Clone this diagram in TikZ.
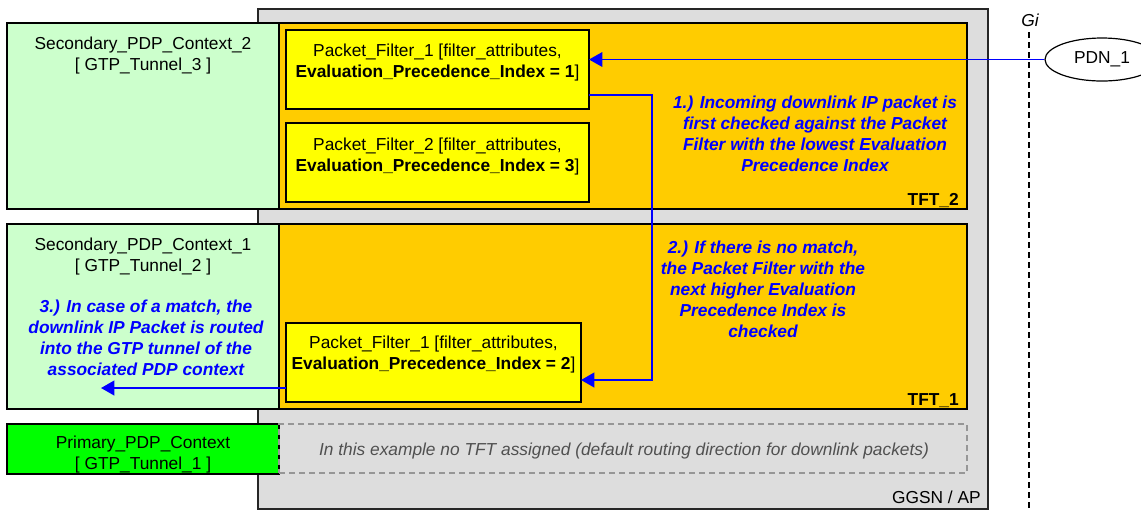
\documentclass[tikz,border=0pt]{standalone}
\usepackage{fontspec}
\setmainfont{Liberation Sans}
\usetikzlibrary{shapes.geometric,arrows.meta}
\definecolor{ggsngray}{RGB}{221,221,221}
\definecolor{lightgreen}{RGB}{204,255,204}
\definecolor{brightgreen}{RGB}{0,255,0}
\definecolor{tftorange}{RGB}{255,204,0}
\definecolor{pfyellow}{RGB}{255,255,0}
\definecolor{noteblue}{RGB}{0,0,255}
\definecolor{dashgray}{RGB}{150,150,150}
\definecolor{textgray}{RGB}{80,80,80}
\begin{document}
\begin{tikzpicture}[x=0.75pt,y=-0.75pt,
  box/.style={draw=black, line width=0.9pt, inner sep=0pt, outer sep=0pt},
  txt/.style={inner sep=0pt, font=\fontsize{13}{15.5}\selectfont, align=center},
  note/.style={inner sep=0pt, align=center, text=noteblue, font=\fontsize{13}{15.75}\selectfont\bfseries\itshape},
  flow/.style={draw=noteblue, line width=1.6pt, -{Triangle[length=10pt,width=11pt]}},
  thinflow/.style={draw=noteblue, line width=0.9pt, -{Triangle[length=10pt,width=11pt]}},
]
\clip (0,0) rectangle (1141,512);
% GGSN / AP container
\node[box, fill=ggsngray, draw=black!85, line width=1.2pt, minimum width=547.5pt, minimum height=375pt] (ggsn) at (623,259) {};
\node[txt, anchor=base east] (ggsnlbl) at (981,503) {GGSN / AP};
% Gi reference line
\coordinate (gitop) at (1029,32);
\coordinate (gibot) at (1029,512);
\draw[black, line width=0.9pt, dash pattern=on 4.5pt off 3pt] (gitop) -- (gibot);
\node[txt, font=\fontsize{13}{15.5}\selectfont\itshape, anchor=base] (gi) at (1030,26) {Gi};
% PDN
\node[draw=black, line width=0.9pt, fill=white, ellipse, minimum width=85.5pt, minimum height=32.25pt, inner sep=0pt, font=\fontsize{13}{15.5}\selectfont] (pdn) at (1102,59.5) {PDN\_1};
% TFT_2 row
\node[box, fill=tftorange, minimum width=516pt, minimum height=139.5pt] (tft2) at (623,116) {};
\node[box, fill=lightgreen, minimum width=204pt, minimum height=139.5pt] (sec2) at (143,116) {};
\node[txt, anchor=north] (sec2t) at (143,36.5) {Secondary\_PDP\_Context\_2\\{}[ GTP\_Tunnel\_3 ]};
\node[box, fill=pfyellow, minimum width=227.25pt, minimum height=59.25pt] (pf1) at (437.5,69.5) {};
\node[txt, anchor=north] (pf1t) at (437.5,43.5) {Packet\_Filter\_1 [filter\_attributes,\\\textbf{Evaluation\_Precedence\_Index = 1}]};
\node[box, fill=pfyellow, minimum width=227.25pt, minimum height=59.25pt] (pf2) at (437.5,162.5) {};
\node[txt, anchor=north] (pf2t) at (437.5,137.5) {Packet\_Filter\_2 [filter\_attributes,\\\textbf{Evaluation\_Precedence\_Index = 3}]};
\node[txt, font=\fontsize{13}{15.5}\selectfont\bfseries, anchor=base east] (tft2l) at (959,205) {TFT\_2};
\node[note, anchor=north] (note1) at (815,96) {1.) Incoming downlink IP packet is\\first checked against the Packet\\Filter with the lowest Evaluation\\Precedence Index};
% TFT_1 row
\node[box, fill=tftorange, minimum width=516pt, minimum height=138.75pt] (tft1) at (623,316.5) {};
\node[box, fill=lightgreen, minimum width=204pt, minimum height=138.75pt] (sec1) at (143,316.5) {};
\node[txt, anchor=north] (sec1t) at (143,237.5) {Secondary\_PDP\_Context\_1\\{}[ GTP\_Tunnel\_2 ]};
\node[note, anchor=north] (note3) at (146,300) {3.) In case of a match, the\\downlink IP Packet is routed\\into the GTP tunnel of the\\associated PDP context};
\node[box, fill=pfyellow, minimum width=221.25pt, minimum height=59.25pt] (pf3) at (433.5,362.5) {};
\node[txt, anchor=north] (pf3t) at (433.5,335.5) {Packet\_Filter\_1 [filter\_attributes,\\\textbf{Evaluation\_Precedence\_Index = 2}]};
\node[txt, font=\fontsize{13}{15.5}\selectfont\bfseries, anchor=base east] (tft1l) at (959,405) {TFT\_1};
\node[note, anchor=north] (note2) at (763,241) {2.) If there is no match,\\the Packet Filter with the\\next higher Evaluation\\Precedence Index is\\checked};
% Primary row
\node[box, fill=brightgreen, minimum width=204pt, minimum height=37.5pt] (prim) at (143,449) {};
\node[txt, anchor=north] (primt) at (143,435.5) {Primary\_PDP\_Context\\{}[ GTP\_Tunnel\_1 ]};
\node[draw=dashgray, line width=1.1pt, dash pattern=on 4.5pt off 3pt, inner sep=0pt, outer sep=0pt, minimum width=516pt, minimum height=36.75pt] (notft) at (623,448.5) {};
\node[txt, font=\fontsize{13}{15.5}\selectfont\itshape, text=textgray, anchor=base] (notftt) at (624,455) {In this example no TFT assigned (default routing direction for downlink packets)};
% connectors
\draw[thinflow] (pdn.west) -- (pdn.west -| pf1.east);
\coordinate (turn1) at (652,95);
\coordinate (turn2) at (652,380);
\draw[flow] (pf1.east |- turn1) -- (turn1) -- (turn2) -- (turn2 -| pf3.east);
\coordinate (outend) at (101,388);
\draw[flow] (outend -| pf3.west) -- (outend);
\end{tikzpicture}
\end{document}
